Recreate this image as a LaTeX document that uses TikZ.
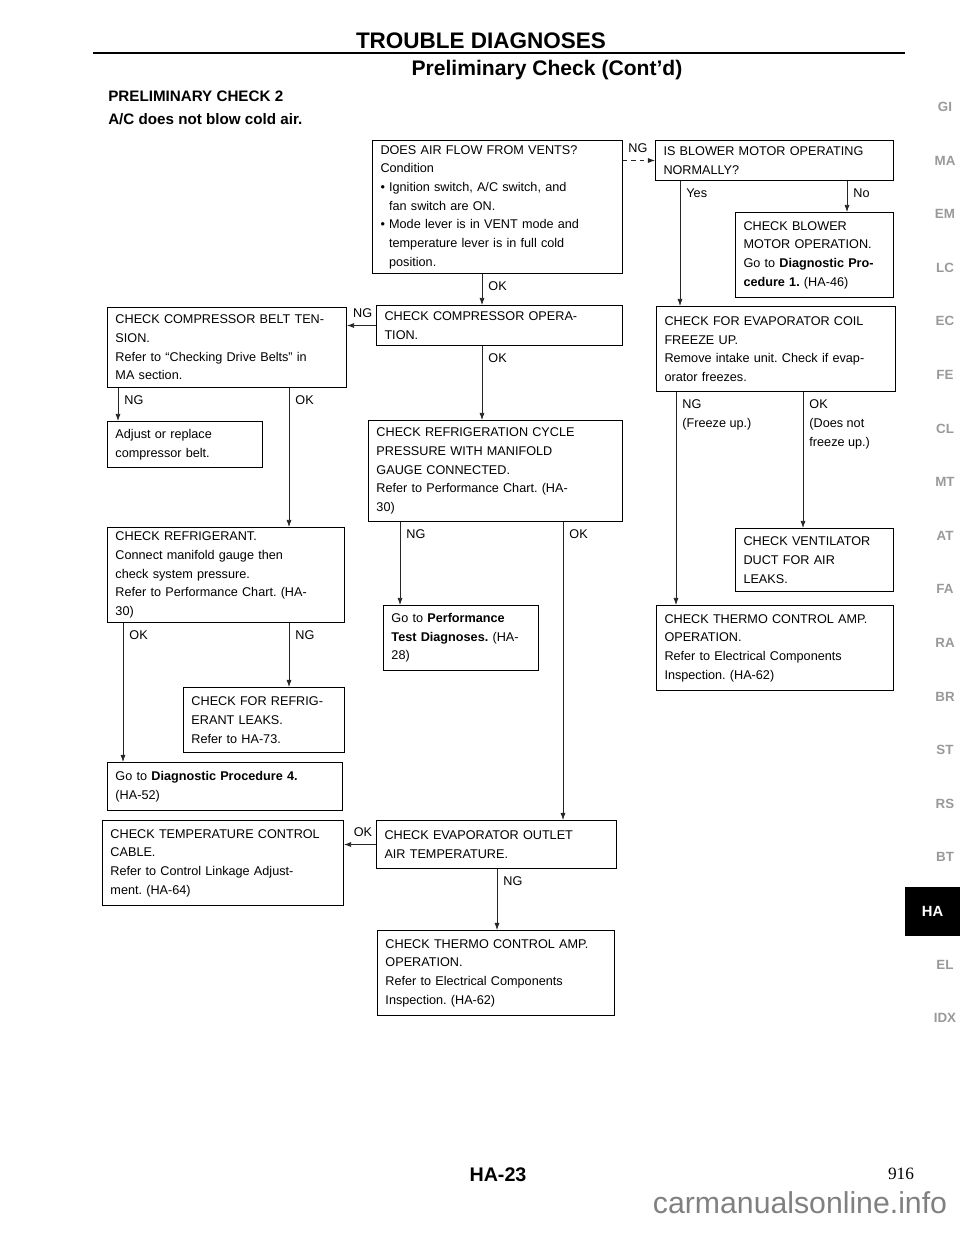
\documentclass[tikz,border=0pt]{standalone}
\usepackage{fontspec}
\setmainfont{Liberation Sans}
\newfontfamily\pagenumfont{Liberation Serif}
\usetikzlibrary{arrows.meta, positioning, calc}
\newcommand{\chkfont}{\fontsize{9}{13.3}\selectfont}
\frenchspacing

\begin{document}
\begin{tikzpicture}[
x=0.025cm, y=-0.025cm,
chk/.style={draw, line width=0.7pt, anchor=north west, align=left, inner xsep=0.2cm, inner ysep=2pt, font=\chkfont},
arrow/.style={-{Latex[length=5pt, width=3.6pt]}, line width=0.55pt, draw=black!85},
lbl/.style={font=\chkfont, anchor=north west, align=left, inner sep=1pt, xshift=3.3pt, yshift=-4.5pt},
sidelbl/.style={font=\chkfont, anchor=south east, inner sep=1pt, xshift=-1.5pt, yshift=4.5pt},
tab/.style={font=\bfseries\fontsize{9.5}{11}\selectfont, text=black!40}
]
\useasboundingbox (0,0) rectangle (960,1242);

% page header
\node[font=\bfseries\fontsize{16}{19}\selectfont] (title) at (481,41) {TROUBLE DIAGNOSES};
\draw[line width=1.8pt] (93,53) -- (905,53);
\node[font=\bfseries\fontsize{15}{18}\selectfont] (subtitle) at (547,70) {Preliminary Check (Cont'd)};
\node[anchor=west, inner sep=0, font=\bfseries\fontsize{10.8}{13}\selectfont] (prelim) at (108,96) {PRELIMINARY CHECK 2};
\node[anchor=west, inner sep=0, font=\bfseries\fontsize{10.8}{13}\selectfont] (symptom) at (108,119) {A/C does not blow cold air.};

% check boxes
\node[chk, text width=5.85cm, minimum height=3.325cm] (vents) at (372,140) {DOES AIR FLOW FROM VENTS?\\Condition\\\textbullet\ Ignition switch, A/C switch, and\\\hphantom{\textbullet\ }fan switch are ON.\\\textbullet\ Mode lever is in VENT mode and\\\hphantom{\textbullet\ }temperature lever is in full cold\\\hphantom{\textbullet\ }position.};
\node[chk, text width=5.55cm, minimum height=1.0cm] (blower) at (655,140) {IS BLOWER MOTOR OPERATING\\NORMALLY?};
\node[chk, text width=3.55cm, minimum height=2.125cm] (blowerop) at (735,212) {CHECK BLOWER\\MOTOR OPERATION.\\Go to \textbf{Diagnostic Pro-}\\\textbf{cedure 1.} (HA-46)};
\node[chk, text width=5.75cm, minimum height=1.0cm] (compop) at (376,305) {CHECK COMPRESSOR OPERA-\\TION.};
\node[chk, text width=5.575cm, minimum height=2.0cm] (belt) at (107,307) {CHECK COMPRESSOR BELT TEN-\\SION.\\Refer to ``Checking Drive Belts'' in\\MA section.};
\node[chk, text width=3.475cm, minimum height=1.15cm] (adjust) at (107,421) {Adjust or replace\\compressor belt.};
\node[chk, text width=5.95cm, minimum height=2.525cm] (cycle) at (368,420) {CHECK REFRIGERATION CYCLE\\PRESSURE WITH MANIFOLD\\GAUGE CONNECTED.\\Refer to Performance Chart. (HA-\\30)};
\node[chk, text width=3.475cm, minimum height=1.625cm] (perf) at (383,605) {Go to \textbf{Performance}\\\textbf{Test Diagnoses.} (HA-\\28)};
\node[chk, text width=5.525cm, minimum height=2.375cm] (refrig) at (107,527) {CHECK REFRIGERANT.\\Connect manifold gauge then\\check system pressure.\\Refer to Performance Chart. (HA-\\30)};
\node[chk, text width=3.625cm, minimum height=1.625cm] (leaks) at (183,687) {CHECK FOR REFRIG-\\ERANT LEAKS.\\Refer to HA-73.};
\node[chk, text width=5.475cm, minimum height=1.2cm] (diag4) at (107,762) {Go to \textbf{Diagnostic Procedure 4.}\\(HA-52)};
\node[chk, text width=5.625cm, minimum height=2.125cm] (cable) at (102,820) {CHECK TEMPERATURE CONTROL\\CABLE.\\Refer to Control Linkage Adjust-\\ment. (HA-64)};
\node[chk, text width=5.6cm, minimum height=1.2cm] (outlet) at (376,820) {CHECK EVAPORATOR OUTLET\\AIR TEMPERATURE.};
\node[chk, text width=5.525cm, minimum height=2.125cm] (thermoL) at (377,930) {CHECK THERMO CONTROL AMP.\\OPERATION.\\Refer to Electrical Components\\Inspection. (HA-62)};
\node[chk, text width=5.575cm, minimum height=2.125cm] (freeze) at (656,306) {CHECK FOR EVAPORATOR COIL\\FREEZE UP.\\Remove intake unit. Check if evap-\\orator freezes.};
\node[chk, text width=3.55cm, minimum height=1.575cm] (duct) at (735,528) {CHECK VENTILATOR\\DUCT FOR AIR\\LEAKS.};
\node[chk, text width=5.525cm, minimum height=2.125cm] (thermoR) at (656,605) {CHECK THERMO CONTROL AMP.\\OPERATION.\\Refer to Electrical Components\\Inspection. (HA-62)};

% connectors
\draw[arrow] (vents.south -| 482,0) node[lbl] {OK} -- (compop.north -| 482,0);
\draw[arrow, dashed] (vents.east |- blower.west) node[sidelbl, anchor=south west, xshift=4pt] {NG} -- (blower.west);
\draw[arrow] (blower.south -| 680,0) node[lbl] {Yes} -- (freeze.north -| 680,0);
\draw[arrow] (blower.south -| 847,0) node[lbl] {No} -- (blowerop.north -| 847,0);
\draw[arrow] (compop.west) node[sidelbl] {NG} -- (compop.west -| belt.east);
\draw[arrow] (compop.south -| 482,0) node[lbl] {OK} -- (cycle.north -| 482,0);
\draw[arrow] (belt.south -| 118,0) node[lbl] {NG} -- (adjust.north -| 118,0);
\draw[arrow] (belt.south -| 289,0) node[lbl] {OK} -- (refrig.north -| 289,0);
\draw[arrow] (cycle.south -| 400,0) node[lbl] {NG} -- (perf.north -| 400,0);
\draw[arrow] (cycle.south -| 563,0) node[lbl] {OK} -- (outlet.north -| 563,0);
\draw[arrow] (refrig.south -| 123,0) node[lbl] {OK} -- (diag4.north -| 123,0);
\draw[arrow] (refrig.south -| 289,0) node[lbl] {NG} -- (leaks.north -| 289,0);
\draw[arrow] (outlet.west) node[sidelbl] {OK} -- (outlet.west -| cable.east);
\draw[arrow] (outlet.south -| 497,0) node[lbl] {NG} -- (thermoL.north -| 497,0);
\draw[arrow] (freeze.south -| 676,0) node[lbl] {NG\\(Freeze up.)} -- (thermoR.north -| 676,0);
\draw[arrow] (freeze.south -| 803,0) node[lbl] {OK\\(Does not\\freeze up.)} -- (duct.north -| 803,0);

% section tabs
\foreach \ty/\tn in {107/GI, 161/MA, 214/EM, 268/LC, 321/EC, 375/FE, 429/CL, 482/MT, 536/AT, 589/FA, 643/RA, 697/BR, 750/ST, 804/RS, 857/BT, 965/EL, 1018/IDX}
  \node[tab] (tab\tn) at (945,\ty) {\tn};
\node[fill=black, text=white, font=\bfseries\fontsize{10.5}{12}\selectfont, minimum width=1.375cm, minimum height=1.225cm] (tabHA) at (932.5,911) {HA};

% page footer
\node[font=\bfseries\fontsize{14}{16}\selectfont] (pageid) at (498,1175) {HA-23};
\node[font=\pagenumfont\fontsize{12.3}{14}\selectfont] (pagenum) at (901,1174) {916};
\node[font=\fontsize{21.5}{24}\selectfont, text=black!50] (watermark) at (800,1203) {carmanualsonline.info};
\end{tikzpicture}
\end{document}
